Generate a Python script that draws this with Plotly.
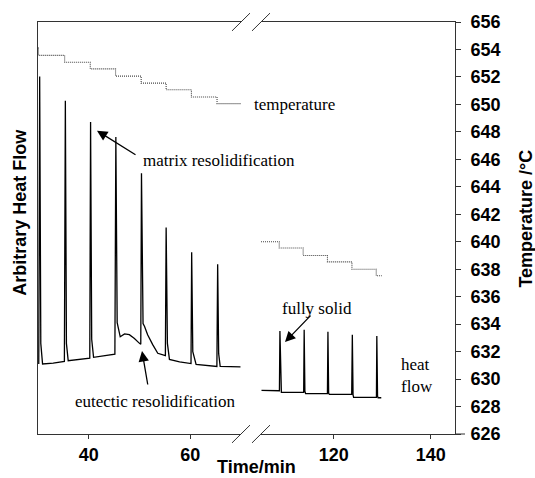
import plotly.graph_objects as go

# ---------------- data ----------------
# heat flow, first (left) time segment
hf_left_time = [30.15, 30.33, 30.55, 30.9, 33.0, 35.2, 35.39, 35.6, 35.95, 38.0, 40.2, 40.36, 40.58,
                40.95, 43.0, 45.15, 45.34, 45.6, 46.2, 47.05, 48.0, 49.0, 50.0, 50.25, 50.39, 50.55,
                50.7, 51.0, 51.6, 52.6, 53.6, 55.1, 55.25, 55.5, 55.9, 57.9, 60.15, 60.28, 60.5,
                61.15, 63.1, 65.25, 65.4, 65.6, 65.9, 69.9]
hf_left_val = [17.0, 86.8, 22.0, 17.0, 17.2, 17.6, 80.9, 22.0, 17.8, 18.1, 18.4, 75.7, 23.0,
               18.6, 19.0, 19.4, 72.1, 27.0, 23.6, 24.3, 24.1, 23.2, 22.0, 21.8, 63.3, 32.0,
               26.8, 26.1, 24.1, 21.7, 19.6, 19.0, 50.1, 22.0, 18.1, 17.5, 17.1, 44.1, 20.0,
               16.9, 16.6, 16.4, 41.2, 19.5, 16.4, 16.3]

# heat flow, second (right) time segment
hf_right_time = [105.1, 108.8, 108.9, 109.05, 109.2, 113.8, 113.9, 114.05, 114.2, 118.7, 118.8,
                 118.95, 119.1, 123.7, 123.83, 123.98, 124.1, 128.8, 128.88, 129.03, 129.15, 129.8]
hf_right_val = [10.6, 10.5, 25.0, 11.0, 10.1, 10.1, 25.3, 10.4, 9.8, 9.8, 24.8, 9.9, 9.6, 9.6,
                24.1, 9.5, 8.9, 8.9, 23.8, 9.2, 8.8, 8.8]

# temperature steps (deg C)
temp_left_time = [30.0, 30.1, 35.25, 40.3, 45.28, 50.33, 55.25, 60.23, 65.28, 70.0]
temp_left_val = [654.1, 653.57, 653.07, 652.59, 652.06, 651.55, 651.07, 650.54, 650.06, 650.06]
temp_right_time = [105.0, 108.76, 113.69, 118.7, 123.75, 128.76, 129.9]
temp_right_val = [640.0, 639.54, 639.0, 638.53, 638.0, 637.52, 637.52]

left_ticks = [40, 60]
right_ticks = [120, 140]

# ---------------- layout helpers ----------------
W, H = 535, 478
ML, MR, MT, MB = 38, 80, 17, 44
PW, PH = W - ML - MR, H - MT - MB


def px(xp):
    return (xp - ML) / PW


def py(yp):
    return (H - MB - yp) / PH


bold = dict(family="Arial, Liberation Sans, sans-serif", size=18, color="black", weight="bold")
serif = dict(family="Times New Roman, Liberation Serif, serif", size=17, color="black")
axis_col = "#333333"
temp_line = dict(color="#444444", width=1.1, dash="1px,1px", shape="hv")

fig = go.Figure()
fig.add_trace(go.Scatter(x=hf_left_time, y=hf_left_val, mode="lines", xaxis="x", yaxis="y",
                         line=dict(color="black", width=1.3), showlegend=False))
fig.add_trace(go.Scatter(x=hf_right_time, y=hf_right_val, mode="lines", xaxis="x2", yaxis="y",
                         line=dict(color="black", width=1.3), showlegend=False))
fig.add_trace(go.Scatter(x=temp_left_time, y=temp_left_val, mode="lines", xaxis="x", yaxis="y2",
                         line=temp_line, showlegend=False))
fig.add_trace(go.Scatter(x=temp_right_time, y=temp_right_val, mode="lines", xaxis="x2", yaxis="y2",
                         line=temp_line, showlegend=False))

xcommon = dict(showline=True, linecolor=axis_col, linewidth=1, mirror=True, ticks="outside",
               ticklen=4, tickcolor=axis_col, showgrid=False, zeroline=False, tickfont=bold,
               tickmode="array")

fig.update_layout(
    width=W, height=H,
    margin=dict(l=ML, r=MR, t=MT, b=MB, pad=0),
    plot_bgcolor="white", paper_bgcolor="white",
    xaxis=dict(domain=[0, px(241)], range=[30, 70], tickvals=left_ticks, anchor="y", **xcommon),
    xaxis2=dict(domain=[px(261), 1], range=[105, 145], tickvals=right_ticks, anchor="y", **xcommon),
    yaxis=dict(range=[0, 100], showline=True, linecolor=axis_col, linewidth=1, ticks="",
               showticklabels=False, showgrid=False, zeroline=False, anchor="x"),
    yaxis2=dict(range=[626, 656], overlaying="y", side="right", anchor="x2", dtick=2, tick0=626,
                showline=True, linecolor=axis_col, linewidth=1, ticks="outside", ticklen=5,
                tickcolor=axis_col, tickfont=bold, showgrid=False, zeroline=False,
                ticklabelstandoff=6),
)

ann = []
# axis titles
ann.append(dict(text="Arbitrary Heat Flow", x=px(20), y=py(210), xref="paper", yref="paper",
                showarrow=False, textangle=-90, font=bold, xanchor="center", yanchor="middle"))
ann.append(dict(text="Temperature /°C", x=px(526), y=py(216), xref="paper", yref="paper",
                showarrow=False, textangle=-90, font=bold, xanchor="center", yanchor="middle"))
ann.append(dict(text="Time/min", x=px(256), y=py(467), xref="paper", yref="paper",
                showarrow=False, font=bold, xanchor="center", yanchor="middle"))
# labels
labels = [("temperature", 252, 100), ("matrix resolidification", 141, 157),
          ("eutectic resolidification", 73, 401), ("fully solid", 280, 307),
          ("heat<br>flow", 399, 375)]
for t, lx, ly in labels:
    ann.append(dict(text=t, x=px(lx), y=py(ly), xref="paper", yref="paper", showarrow=False,
                    font=serif, xanchor="left", yanchor="middle", align="left"))
# arrows (head, tail)
arrows = [((97, 127), (137, 152)), ((142, 350), (148, 385)), ((285, 341), (312, 313))]
for (hx, hy), (tx, ty) in arrows:
    ann.append(dict(text="", x=px(hx), y=py(hy), xref="paper", yref="paper", showarrow=True,
                    ax=tx - hx, ay=ty - hy, arrowhead=2, arrowsize=1.6, arrowwidth=1.3,
                    arrowcolor="black", standoff=0))
fig.update_layout(annotations=ann)

# axis break marks
shapes = []
for yb in (17, 434):
    for x0 in (232, 252):
        shapes.append(dict(type="line", xref="paper", yref="paper",
                           x0=px(x0), y0=py(yb + 9), x1=px(x0 + 18), y1=py(yb - 9),
                           line=dict(color=axis_col, width=1)))
# small extension of bottom axis line past the right axis
shapes.append(dict(type="line", xref="paper", yref="paper", x0=1, y0=0, x1=px(465), y1=0,
                   line=dict(color=axis_col, width=1)))
fig.update_layout(shapes=shapes)

fig.write_html("out.html")
